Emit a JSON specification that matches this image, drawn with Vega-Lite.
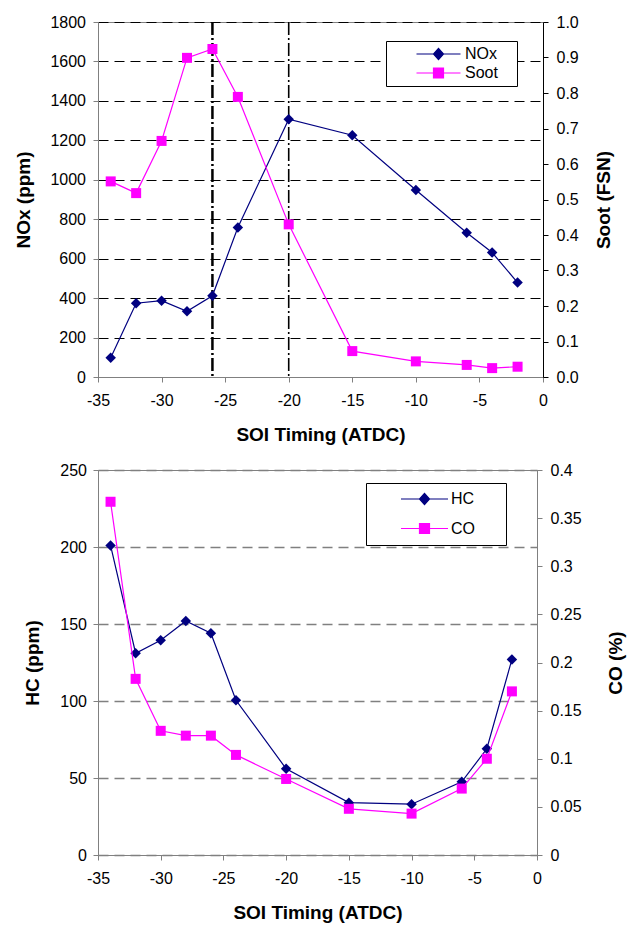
{
  "$schema": "https://vega.github.io/schema/vega-lite/v6.json",
  "background": "white",
  "padding": {"left": 14, "top": 13, "right": 5, "bottom": 5},
  "spacing": 16,
  "datasets": {
    "emis": [
      {"soi": -34, "nox": 98, "soot": 0.551, "hc": 201, "co": 0.367},
      {"soi": -32, "nox": 374, "soot": 0.518, "hc": 131, "co": 0.183},
      {"soi": -30, "nox": 387, "soot": 0.665, "hc": 139.5, "co": 0.129},
      {"soi": -28, "nox": 333, "soot": 0.899, "hc": 152, "co": 0.124},
      {"soi": -26, "nox": 412, "soot": 0.924, "hc": 144, "co": 0.124},
      {"soi": -24, "nox": 758, "soot": 0.789, "hc": 100.5, "co": 0.104},
      {"soi": -20, "nox": 1307, "soot": 0.43, "hc": 56, "co": 0.079},
      {"soi": -15, "nox": 1226, "soot": 0.073, "hc": 34, "co": 0.048},
      {"soi": -10, "nox": 948, "soot": 0.044, "hc": 33, "co": 0.043},
      {"soi": -6, "nox": 731, "soot": 0.034, "hc": 47.5, "co": 0.069},
      {"soi": -4, "nox": 631, "soot": 0.025, "hc": 69, "co": 0.1},
      {"soi": -2, "nox": 479, "soot": 0.029, "hc": 127, "co": 0.17}
    ],
    "vlines": [{"soi": -26}, {"soi": -20}]
  },
  "config": {
    "font": "Liberation Sans",
    "view": {"stroke": "#808080"},
    "axis": {
      "labelFont": "Liberation Sans",
      "labelFontSize": 16,
      "labelColor": "black",
      "titleFont": "Liberation Sans",
      "titleFontSize": 19,
      "titleFontWeight": "bold",
      "titleColor": "black",
      "domainColor": "#808080",
      "tickColor": "#808080",
      "tickSize": 5,
      "grid": false,
      "labelFlush": false,
      "labelOverlap": false
    }
  },
  "vconcat": [
    {
      "width": 445,
      "height": 355,
      "data": {"name": "emis"},
      "encoding": {
        "x": {
          "field": "soi",
          "type": "quantitative",
          "scale": {"domain": [-35, 0], "nice": false},
          "axis": {
            "values": [-35, -30, -25, -20, -15, -10, -5, 0],
            "labelExpr": "'' + datum.value",
            "title": "SOI Timing (ATDC)",
            "labelPadding": 10,
            "titlePadding": 17
          }
        }
      },
      "layer": [
        {
          "data": {"name": "vlines"},
          "transform": [{"filter": "datum.soi === -26"}],
          "mark": {"type": "rule", "color": "black", "strokeWidth": 2.5, "strokeDash": [13, 3, 2, 3]},
          "encoding": {}
        },
        {
          "data": {"name": "vlines"},
          "transform": [{"filter": "datum.soi === -20"}],
          "mark": {"type": "rule", "color": "black", "strokeWidth": 1.6, "strokeDash": [13, 3, 2, 3]},
          "encoding": {}
        },
        {
          "encoding": {
            "y": {
              "field": "nox",
              "type": "quantitative",
              "scale": {"domain": [0, 1800], "nice": false},
              "axis": {
                "orient": "left",
                "values": [0, 200, 400, 600, 800, 1000, 1200, 1400, 1600, 1800],
                "format": "d",
                "title": "NOx (ppm)",
                "grid": true,
                "gridColor": "black",
                "gridDash": [10, 6],
                "labelPadding": 7.5,
                "titlePadding": 16
              }
            },
            "color": {
              "datum": "NOx",
              "type": "nominal",
              "scale": {"domain": ["NOx", "Soot"], "range": ["#000080", "#ff00ff"]},
              "legend": {
                "orient": "none",
                "legendX": 288,
                "legendY": 19,
                "title": null,
                "fillColor": "white",
                "strokeColor": "black",
                "padding": 5,
                "symbolSize": 100,
                "symbolOffset": 39.5,
                "labelOffset": 18.5,
                "rowPadding": 3,
                "labelFont": "Liberation Sans",
                "labelFontSize": 16,
                "labelColor": "black",
                "labelExpr": "datum.label + '\u00a0\u00a0\u00a0\u200b'",
                "encode": {
                  "symbols": {
                    "update": {
                      "shape": {"signal": "datum.value === 'NOx' ? 'M-4.4,0L4.4,0M0,-1.1L1,0L0,1.1L-1,0Z' : 'M-4.4,0L4.4,0M-1,-1L1,-1L1,1L-1,1Z'"},
                      "fill": {"signal": "datum.value === 'NOx' ? '#000080' : '#ff00ff'"},
                      "stroke": {"signal": "datum.value === 'NOx' ? '#000080' : '#ff00ff'"},
                      "strokeWidth": {"value": 1.2},
                      "opacity": {"value": 1},
                      "fillOpacity": {"value": 1},
                      "strokeOpacity": {"value": 1}
                    }
                  }
                }
              }
            }
          },
          "layer": [
            {"mark": {"type": "line", "strokeWidth": 1.2}},
            {"mark": {"type": "point", "shape": "diamond", "filled": true, "size": 110, "opacity": 1}}
          ]
        },
        {
          "encoding": {
            "y": {
              "field": "soot",
              "type": "quantitative",
              "scale": {"domain": [0, 1], "nice": false},
              "axis": {
                "orient": "right",
                "values": [0, 0.1, 0.2, 0.3, 0.4, 0.5, 0.6, 0.7, 0.8, 0.9, 1],
                "format": ".1f",
                "title": "Soot (FSN)",
                "titleAngle": 270,
                "titleBaseline": "top",
                "domainColor": "black",
                "tickColor": "black",
                "labelPadding": 8,
                "titlePadding": 16
              }
            },
            "color": {"datum": "Soot", "type": "nominal"}
          },
          "layer": [
            {"mark": {"type": "line", "strokeWidth": 1.2}},
            {"mark": {"type": "point", "shape": "square", "filled": true, "size": 100, "opacity": 1}}
          ]
        }
      ],
      "resolve": {"scale": {"y": "independent"}}
    },
    {
      "width": 439,
      "height": 385,
      "data": {"name": "emis"},
      "encoding": {
        "x": {
          "field": "soi",
          "type": "quantitative",
          "scale": {"domain": [-35, 0], "nice": false},
          "axis": {
            "values": [-35, -30, -25, -20, -15, -10, -5, 0],
            "labelExpr": "'' + datum.value",
            "title": "SOI Timing (ATDC)",
            "labelPadding": 10,
            "titlePadding": 17
          }
        }
      },
      "layer": [
        {
          "encoding": {
            "y": {
              "field": "hc",
              "type": "quantitative",
              "scale": {"domain": [0, 250], "nice": false},
              "axis": {
                "orient": "left",
                "values": [0, 50, 100, 150, 200, 250],
                "format": "d",
                "title": "HC (ppm)",
                "grid": true,
                "gridColor": "#808080",
                "gridDash": [10, 6],
                "gridWidth": 1.5,
                "labelPadding": 6.5,
                "titlePadding": 17
              }
            },
            "color": {
              "datum": "HC",
              "type": "nominal",
              "scale": {"domain": ["HC", "CO"], "range": ["#000080", "#ff00ff"]},
              "legend": {
                "orient": "none",
                "legendX": 268,
                "legendY": 13,
                "title": null,
                "fillColor": "white",
                "strokeColor": "black",
                "padding": 8,
                "symbolSize": 100,
                "symbolOffset": 42.5,
                "labelOffset": 18.5,
                "rowPadding": 13.5,
                "labelFont": "Liberation Sans",
                "labelFontSize": 16,
                "labelColor": "black",
                "labelExpr": "datum.label + '\u00a0\u00a0\u00a0\u00a0\u00a0\u200b'",
                "encode": {
                  "symbols": {
                    "update": {
                      "shape": {"signal": "datum.value === 'HC' ? 'M-4.7,0L4.7,0M0,-1.1L1,0L0,1.1L-1,0Z' : 'M-4.7,0L4.7,0M-1,-1L1,-1L1,1L-1,1Z'"},
                      "fill": {"signal": "datum.value === 'HC' ? '#000080' : '#ff00ff'"},
                      "stroke": {"signal": "datum.value === 'HC' ? '#000080' : '#ff00ff'"},
                      "strokeWidth": {"value": 1.2},
                      "opacity": {"value": 1},
                      "fillOpacity": {"value": 1},
                      "strokeOpacity": {"value": 1}
                    }
                  }
                }
              }
            }
          },
          "layer": [
            {"mark": {"type": "line", "strokeWidth": 1.2}},
            {"mark": {"type": "point", "shape": "diamond", "filled": true, "size": 110, "opacity": 1}}
          ]
        },
        {
          "encoding": {
            "y": {
              "field": "co",
              "type": "quantitative",
              "scale": {"domain": [0, 0.4], "nice": false},
              "axis": {
                "orient": "right",
                "values": [0, 0.05, 0.1, 0.15, 0.2, 0.25, 0.3, 0.35, 0.4],
                "format": "~g",
                "title": "CO (%)",
                "titleAngle": 270,
                "titleBaseline": "top",
                "labelPadding": 8,
                "titlePadding": 25
              }
            },
            "color": {"datum": "CO", "type": "nominal"}
          },
          "layer": [
            {"mark": {"type": "line", "strokeWidth": 1.2}},
            {"mark": {"type": "point", "shape": "square", "filled": true, "size": 100, "opacity": 1}}
          ]
        }
      ],
      "resolve": {"scale": {"y": "independent"}}
    }
  ],
  "resolve": {"scale": {"color": "independent", "x": "independent"}, "legend": {"color": "independent"}}
}
